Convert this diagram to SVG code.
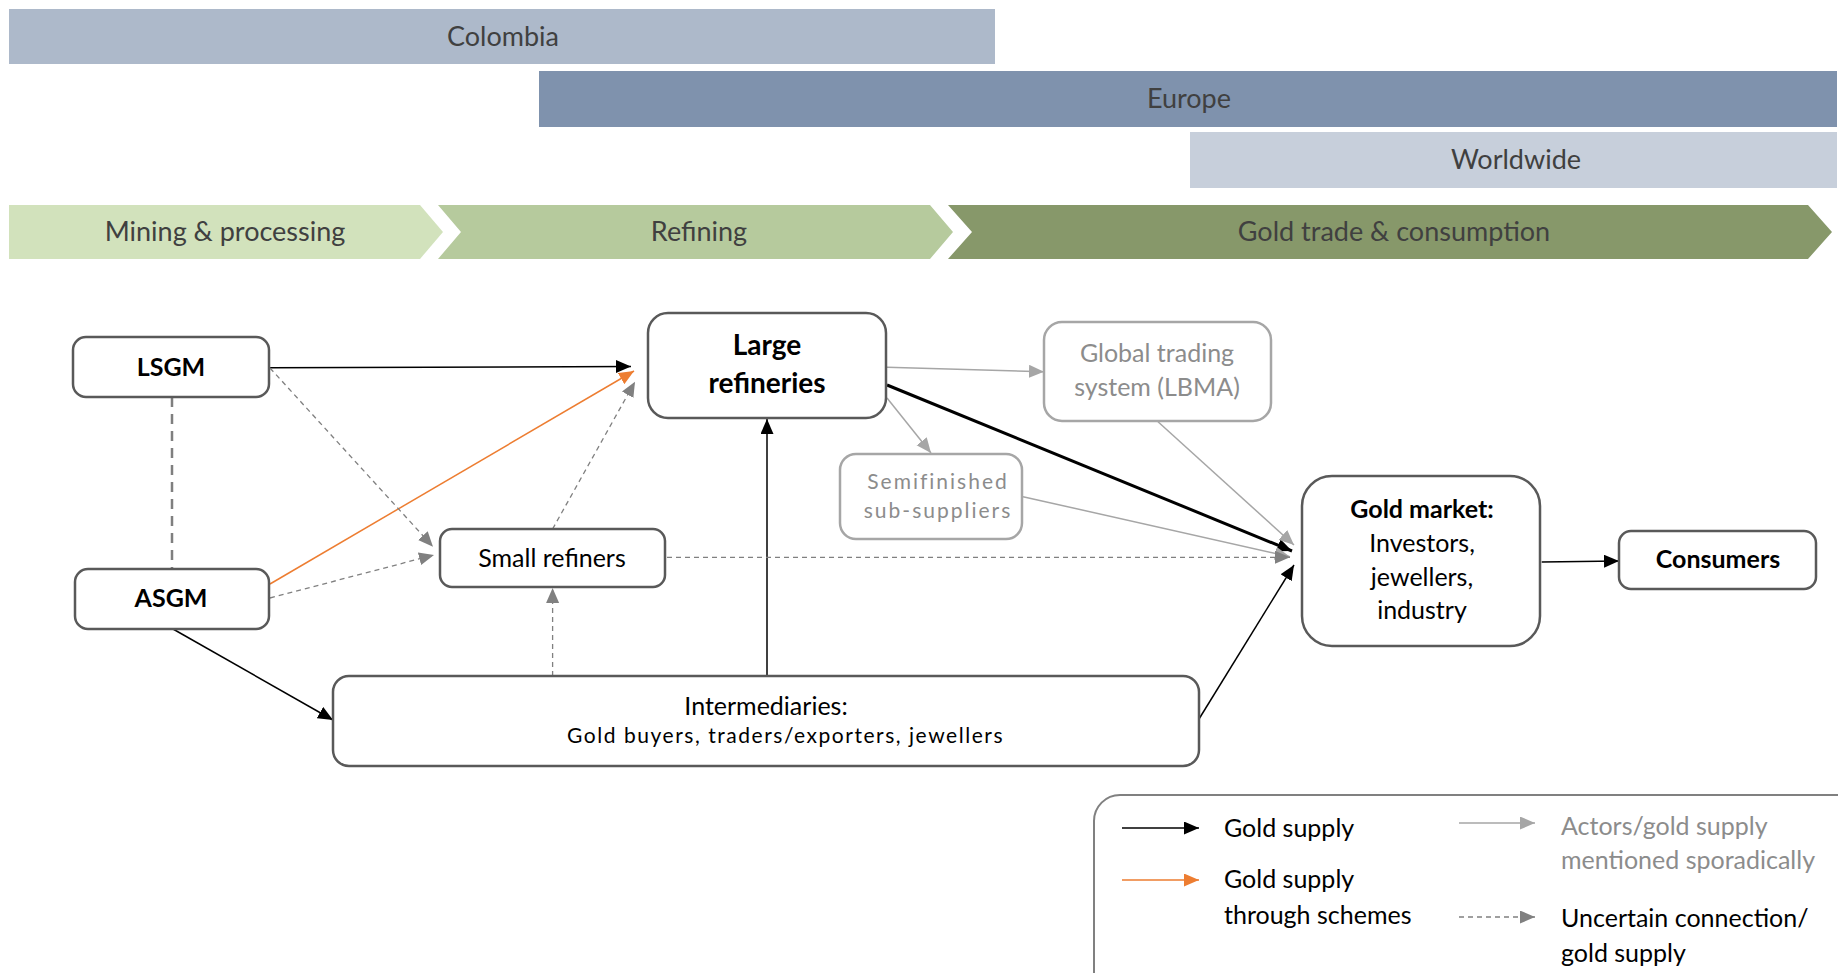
<svg xmlns="http://www.w3.org/2000/svg" width="1838" height="973" viewBox="0 0 1838 973">
<style>
.bar{font-family:Lato,"Liberation Sans",sans-serif;font-size:27px;fill:#404040;text-anchor:middle}
.node{fill:#fff;stroke:#595959;stroke-width:2.5}
.gnode{fill:#fff;stroke:#a6a6a6;stroke-width:2.5}
.t{font-family:Lato,"Liberation Sans",sans-serif;font-size:25px;fill:#000;text-anchor:middle}
.b{font-weight:bold}
.lt{font-family:Lato,"Liberation Sans",sans-serif;font-size:25px;fill:#000}
.gt{fill:#8c8c8c}
.blk{stroke:#000;stroke-width:1.5;fill:none}
.org{stroke:#ed7d31;stroke-width:1.5;fill:none}
.gry{stroke:#a6a6a6;stroke-width:1.5;fill:none}
.dsh{stroke:#808080;stroke-width:1.3;stroke-dasharray:5 4;fill:none}
</style>
<defs>
<marker id="aBlk" markerUnits="userSpaceOnUse" markerWidth="16" markerHeight="14" refX="15" refY="6.5" orient="auto"><path d="M0,0 L15,6.5 L0,13 z" fill="#000"/></marker>
<marker id="aOrg" markerUnits="userSpaceOnUse" markerWidth="16" markerHeight="14" refX="15" refY="6.5" orient="auto"><path d="M0,0 L15,6.5 L0,13 z" fill="#ed7d31"/></marker>
<marker id="aGry" markerUnits="userSpaceOnUse" markerWidth="16" markerHeight="14" refX="15" refY="6.5" orient="auto"><path d="M0,0 L15,6.5 L0,13 z" fill="#a6a6a6"/></marker>
<marker id="aDsh" markerUnits="userSpaceOnUse" markerWidth="16" markerHeight="14" refX="15" refY="6.5" orient="auto"><path d="M0,0 L15,6.5 L0,13 z" fill="#808080"/></marker>
</defs>
<rect width="1838" height="973" fill="#fff"/>

<g id="regions">
<rect x="9" y="9" width="986" height="55" fill="#adb9ca"/>
<text class="bar" x="503" y="46">Colombia</text>
<rect x="539" y="71" width="1298" height="56" fill="#7f92ad"/>
<text class="bar" x="1189" y="108">Europe</text>
<rect x="1190" y="132" width="647" height="56" fill="#c7cfdb"/>
<text class="bar" x="1516" y="169">Worldwide</text>
</g>

<g id="stages">
<polygon points="9,205 420,205 443,232 420,259 9,259" fill="#d2e2bc"/>
<text class="bar" x="225" y="241">Mining &amp; processing</text>
<polygon points="438,205 930,205 953,232 930,259 438,259 461,232" fill="#b6ca9d"/>
<text class="bar" x="699" y="241">Refining</text>
<polygon points="948,205 1808,205 1832,232 1808,259 948,259 972,232" fill="#87986a"/>
<text class="bar" x="1394" y="241">Gold trade &amp; consumption</text>
</g>

<g id="connectors">
<line class="blk" x1="270" y1="367.7" x2="631" y2="366.5" marker-end="url(#aBlk)"/>
<line class="org" x1="270" y1="584" x2="634" y2="371" marker-end="url(#aOrg)"/>
<line class="dsh" x1="552.6" y1="529" x2="635" y2="381.7" marker-end="url(#aDsh)"/>
<line class="dsh" x1="270" y1="368" x2="433" y2="546.7" marker-end="url(#aDsh)"/>
<line class="dsh" x1="270" y1="598" x2="434" y2="555" marker-end="url(#aDsh)"/>
<line x1="172" y1="397" x2="172" y2="569" stroke="#7f7f7f" stroke-width="2.5" stroke-dasharray="10 7"/>
<line class="blk" x1="173" y1="629" x2="333" y2="720" marker-end="url(#aBlk)"/>
<line class="dsh" x1="552.6" y1="676" x2="552.6" y2="588" marker-end="url(#aDsh)"/>
<line class="blk" x1="767" y1="676" x2="767" y2="419" marker-end="url(#aBlk)"/>
<line class="gry" x1="887" y1="367.3" x2="1044" y2="371.7" marker-end="url(#aGry)"/>
<line class="gry" x1="887" y1="398" x2="931" y2="453" marker-end="url(#aGry)"/>
<line x1="887" y1="385" x2="1292" y2="551" stroke="#000" stroke-width="3" marker-end="url(#aBlk)"/>
<line class="gry" x1="1158" y1="421.7" x2="1294" y2="545" marker-end="url(#aGry)"/>
<line class="gry" x1="1023" y1="496.7" x2="1290" y2="556.7" marker-end="url(#aGry)"/>
<line class="dsh" x1="667" y1="557.3" x2="1290" y2="557.3" marker-end="url(#aDsh)"/>
<line class="blk" x1="1199" y1="719" x2="1294" y2="565" marker-end="url(#aBlk)"/>
<line class="blk" x1="1541.7" y1="562" x2="1619" y2="561" marker-end="url(#aBlk)"/>
</g>

<g id="lsgm">
<rect class="node" x="73" y="337" width="196" height="60" rx="13"/>
<text class="t b" x="171" y="376">LSGM</text>
</g>
<g id="asgm">
<rect class="node" x="75" y="569" width="194" height="60" rx="13"/>
<text class="t b" x="171" y="607">ASGM</text>
</g>
<g id="large-refineries">
<rect class="node" x="648" y="313" width="238" height="105" rx="20"/>
<text class="t b" x="767" y="355" style="font-size:28px">Large</text>
<text class="t b" x="767" y="393" style="font-size:28px">refineries</text>
</g>
<g id="global-trading">
<rect class="gnode" x="1044" y="322" width="227" height="99" rx="18"/>
<text class="t gt" x="1157" y="362">Global trading</text>
<text class="t gt" x="1157" y="396">system (LBMA)</text>
</g>
<g id="semifinished">
<rect class="gnode" x="840" y="454" width="182" height="85" rx="16"/>
<text class="t gt" x="938" y="489" style="font-size:21px;letter-spacing:2px">Semifinished</text>
<text class="t gt" x="938" y="518" style="font-size:21px;letter-spacing:2px">sub-suppliers</text>
</g>
<g id="small-refiners">
<rect class="node" x="440" y="529" width="225" height="58" rx="12"/>
<text class="t" x="552" y="567">Small refiners</text>
</g>
<g id="intermediaries">
<rect class="node" x="333" y="676" width="866" height="90" rx="16"/>
<text class="t" x="766" y="715">Intermediaries:</text>
<text x="567" y="743" style="font-family:Lato,'Liberation Sans',sans-serif;font-size:21px;letter-spacing:1.5px" textLength="437" lengthAdjust="spacing">Gold buyers, traders/exporters, jewellers</text>
</g>
<g id="gold-market">
<rect class="node" x="1302" y="476" width="238" height="170" rx="30"/>
<text class="t b" x="1422" y="518">Gold market:</text>
<text class="t" x="1422" y="552">Investors,</text>
<text class="t" x="1422" y="586">jewellers,</text>
<text class="t" x="1422" y="619">industry</text>
</g>
<g id="consumers">
<rect class="node" x="1619" y="531" width="197" height="58" rx="12"/>
<text class="t b" x="1718" y="568">Consumers</text>
</g>

<g id="legend">
<rect x="1094" y="795" width="800" height="250" rx="26" fill="#fff" stroke="#808080" stroke-width="2"/>
<line class="blk" x1="1122" y1="828" x2="1199" y2="828" marker-end="url(#aBlk)"/>
<text class="lt" x="1224" y="837">Gold supply</text>
<line class="org" x1="1122" y1="880" x2="1199" y2="880" marker-end="url(#aOrg)"/>
<text class="lt" x="1224" y="888">Gold supply</text>
<text class="lt" x="1224" y="924">through schemes</text>
<line class="gry" x1="1459" y1="823" x2="1535" y2="823" marker-end="url(#aGry)"/>
<text class="lt gt" x="1561" y="835">Actors/gold supply</text>
<text class="lt gt" x="1561" y="869">mentioned sporadically</text>
<line class="dsh" x1="1459" y1="917" x2="1535" y2="917" marker-end="url(#aDsh)"/>
<text class="lt" x="1561" y="927">Uncertain connection/</text>
<text class="lt" x="1561" y="962">gold supply</text>
</g>
</svg>
